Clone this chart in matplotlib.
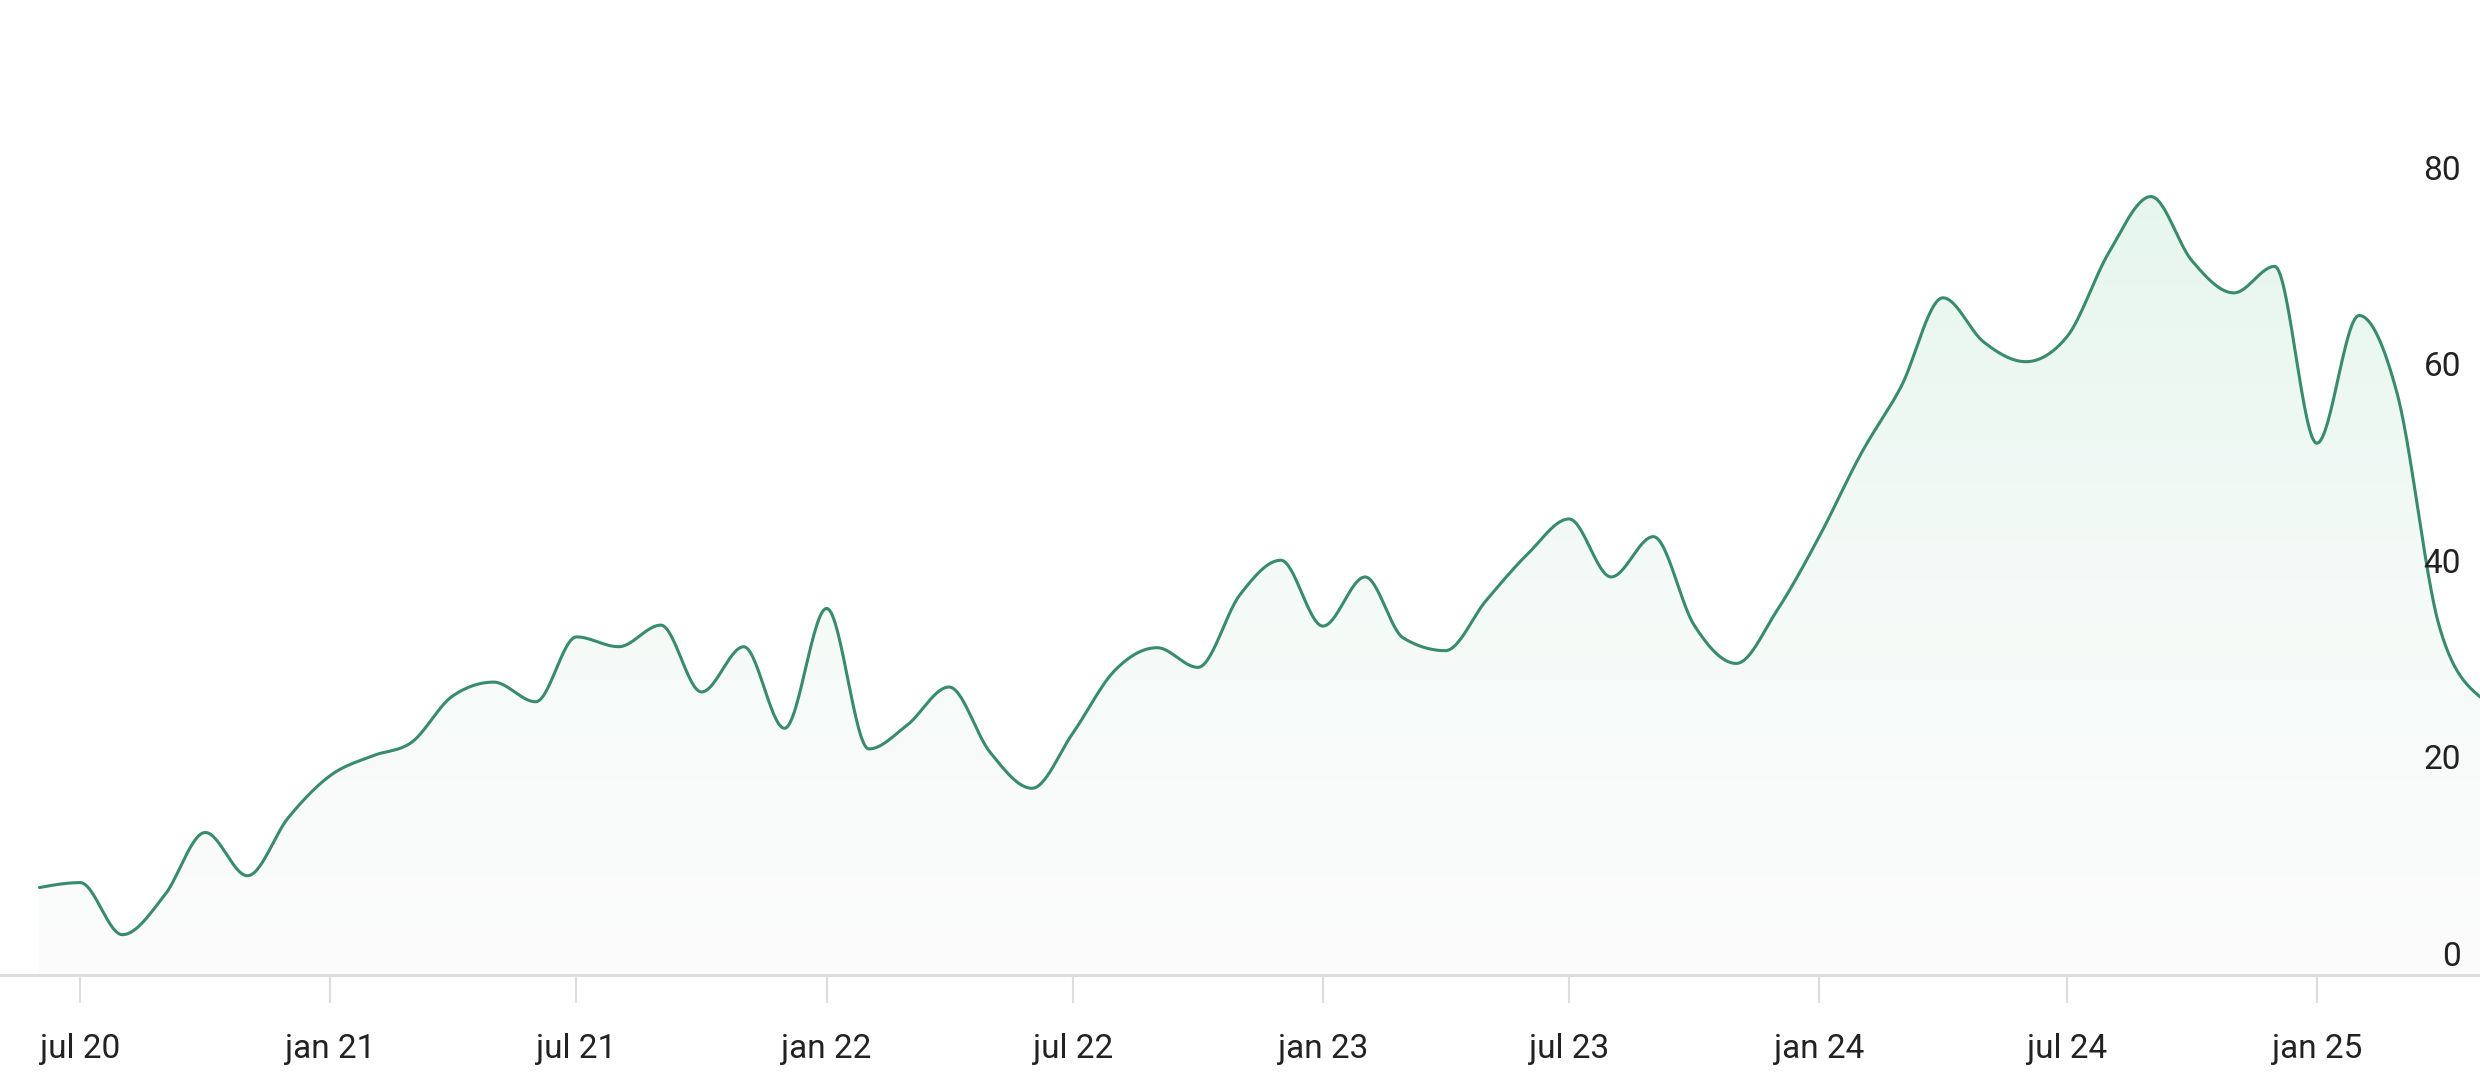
import numpy as np
import pandas as pd
import matplotlib
matplotlib.use('Agg')
import matplotlib.pyplot as plt
import matplotlib.dates as mdates
import matplotlib.transforms as mtransforms
from matplotlib.colors import LinearSegmentedColormap

plt.rcParams['font.family'] = ['Roboto', 'DejaVu Sans']

# monthly index values, jun 2020 .. may 2025
months = pd.date_range('2020-06-01', '2025-05-01', freq='MS')
values = [8.9, 9.4, 4.1, 8.1, 14.5, 10.1, 16.0, 20.3, 22.3, 23.6,
          28.4, 29.8, 27.8, 34.4, 33.4, 35.6, 28.8, 33.4, 25.1, 37.3,
          23.0, 25.4, 29.3, 22.7, 19.0, 24.6, 31.0, 33.3, 31.3, 38.7,
          42.2, 35.5, 40.5, 34.3, 33.0, 38.1, 42.9, 46.4, 40.5, 44.6,
          35.6, 31.7, 37.1, 44.6, 53.1, 59.8, 68.9, 64.4, 62.4, 64.9,
          73.5, 79.2, 72.7, 69.4, 72.1, 54.1, 67.1, 59.2, 35.5, 28.3]

tick_dates = pd.date_range('2020-07-01', '2025-01-01', freq='6MS')
tick_labels = ['jul 20', 'jan 21', 'jul 21', 'jan 22', 'jul 22',
               'jan 23', 'jul 23', 'jan 24', 'jul 24', 'jan 25']
y_ticks = [0, 20, 40, 60, 80]

LINE = '#388b6b'
GRID = '#dddddd'
TEXT = '#222222'


def monotone_curve(x, y, n=30):
    # monotone cubic (like d3 curveMonotoneX) through the points
    x = np.asarray(x, float)
    y = np.asarray(y, float)
    h = np.diff(x)
    d = np.diff(y) / h
    m = np.zeros_like(y)
    for i in range(1, len(y) - 1):
        s0, s1 = d[i - 1], d[i]
        p = (s0 * h[i] + s1 * h[i - 1]) / (h[i - 1] + h[i])
        m[i] = (np.sign(s0) + np.sign(s1)) * min(abs(s0), abs(s1), 0.5 * abs(p))
    m[0] = (3 * d[0] - m[1]) / 2
    m[-1] = (3 * d[-1] - m[-2]) / 2
    xs, ys = [], []
    for i in range(len(h)):
        t = np.linspace(0, 1, n, endpoint=(i == len(h) - 1))
        h00 = 2 * t**3 - 3 * t**2 + 1
        h10 = t**3 - 2 * t**2 + t
        h01 = -2 * t**3 + 3 * t**2
        h11 = t**3 - t**2
        xs.append(x[i] + t * h[i])
        ys.append(h00 * y[i] + h10 * h[i] * m[i] + h01 * y[i + 1] + h11 * h[i] * m[i + 1])
    return np.concatenate(xs), np.concatenate(ys)


fig = plt.figure(figsize=(24.8, 10.92), dpi=100)
ax = fig.add_axes([0, 117 / 1092, 1, 975 / 1092])

xnum = mdates.date2num(months)
cx, cy = monotone_curve(xnum, values)

x_left = xnum[0] - 29
x_right = xnum[-1]
y_top = 99.2

# gradient fill under the curve
cmap = LinearSegmentedColormap.from_list('fade', ['#fcfcfc', '#f4faf7', '#e6f6ee'])
grad = np.linspace(0, 1, 256).reshape(-1, 1)
img = ax.imshow(grad, cmap=cmap, aspect='auto', origin='lower',
                extent=[x_left, x_right, 0, 80], zorder=1)
poly = ax.fill_between(cx, cy, 0, color='none', lw=0)
img.set_clip_path(poly.get_paths()[0], transform=ax.transData)

ax.plot(cx, cy, color=LINE, lw=2.2, solid_capstyle='round', zorder=3)

ax.set_xlim(x_left, x_right)
ax.set_ylim(0, y_top)

for s in ['top', 'left', 'right']:
    ax.spines[s].set_visible(False)
ax.spines['bottom'].set_color(GRID)
ax.spines['bottom'].set_linewidth(2.2)

ax.set_xticks(mdates.date2num(tick_dates))
ax.set_xticklabels(tick_labels)
ax.tick_params(axis='x', direction='out', length=20, width=1.5, color=GRID,
               labelcolor=TEXT, labelsize=24, pad=22)
ax.set_yticks([])

offset = mtransforms.offset_copy(ax.get_yaxis_transform(), fig=fig, y=9, units='dots')
for v in y_ticks:
    ax.text(0.9923, v, str(v), transform=offset, ha='right', va='baseline',
            fontsize=24, color=TEXT)

fig.savefig('out.png', dpi=100, facecolor='white')
